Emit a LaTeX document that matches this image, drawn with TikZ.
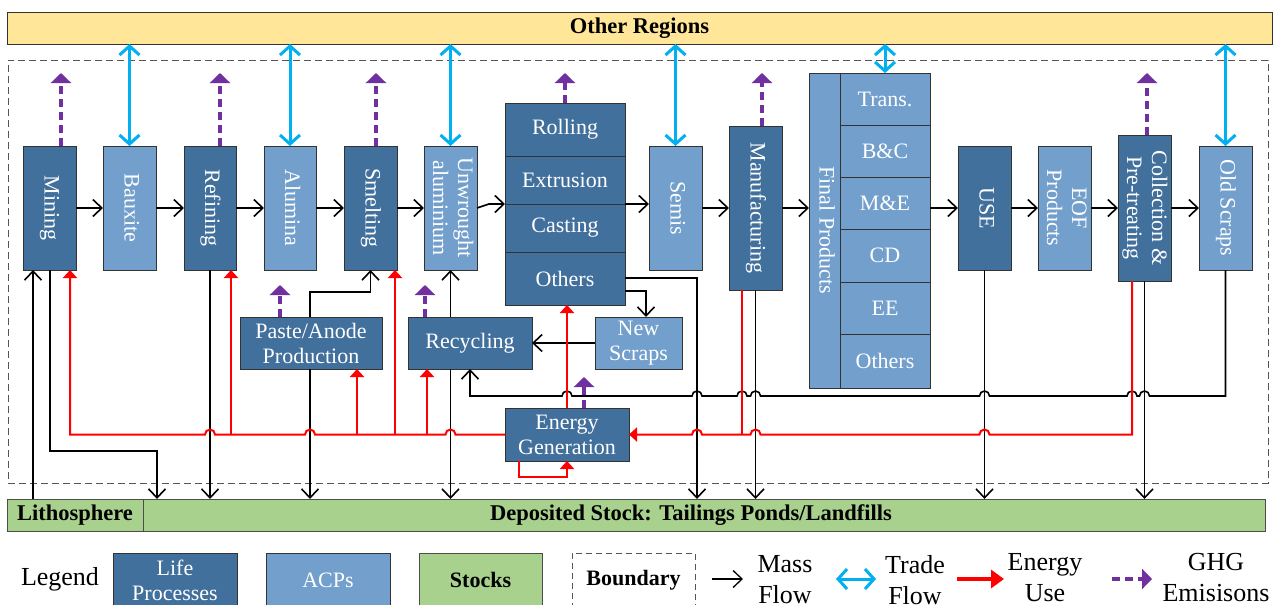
\documentclass[tikz,border=0pt]{standalone}
\usepackage{fontspec}
\setmainfont{Liberation Serif}
\usepackage{graphicx}
\usetikzlibrary{arrows.meta}
\definecolor{cLP}{HTML}{42709C}
\definecolor{cACP}{HTML}{729FCC}
\definecolor{cStk}{HTML}{A9D18E}
\definecolor{cOreg}{HTML}{FFE699}
\definecolor{cTrade}{HTML}{00B0F0}
\definecolor{cGhg}{HTML}{7030A0}
\definecolor{cBnd}{HTML}{555555}
\newcommand\myfs[2]{\fontsize{#1}{#2}\selectfont}
\newcommand\vtxt[1]{\rotatebox{-90}{\begin{tabular}{@{}c@{}}#1\end{tabular}}}
\begin{document}
\begin{tikzpicture}[x=1pt,y=-1pt,
  bx/.style={draw=black!80,line width=0.8pt,inner sep=0pt,outer sep=0pt,text=white,font=\myfs{22}{25},align=center},
  lpbox/.style={bx,fill=cLP},
  acpbox/.style={bx,fill=cACP},
  stkbox/.style={bx,fill=cStk,draw=black!70,text=black,font=\myfs{22.5}{25}\bfseries},
  sz/.style 2 args={minimum width=#1pt,minimum height=#2pt},
  mass/.style={draw=black,line width=1.6pt,-{Straight Barb[length=9pt,width=17pt]}},
  trade/.style={draw=cTrade,line width=3pt,{Straight Barb[length=9pt,width=20pt]}-{Straight Barb[length=9pt,width=20pt]}},
  ghg/.style={draw=cGhg,line width=3.5pt,dash pattern=on 8pt off 5pt,-{Triangle[length=10pt,width=20pt]}},
  energy/.style={draw=red,line width=2pt,-{Triangle[length=8pt,width=14pt]}},
  energyline/.style={draw=red,line width=2pt},
  lgtext/.style={font=\myfs{26}{31},align=center,inner sep=0pt}
]
\useasboundingbox (0,0) rectangle (1285,605);
\clip (0,0) rectangle (1285,605);

% boundary and bands
\node[draw=cBnd,dash pattern=on 7pt off 4pt,line width=1pt,inner sep=0pt,outer sep=0pt,sz={1260}{423}] (boundary) at (638,271.5) {};
\node[bx,fill=cOreg,text=black,font=\myfs{22.5}{25}\bfseries,sz={1265}{32}] (oreg) at (639.5,28) {Other Regions};
\node[stkbox,sz={1122}{32},label={[font=\myfs{22.5}{25}\bfseries,xshift=-13pt]center:Deposited Stock: Tailings Ponds/Landfills}] (depo) at (704,515) {};
\node[stkbox,sz={136}{32}] (litho) at (75,515) {Lithosphere};

% main row
\node[lpbox,sz={53}{124}] (mining) at (49.5,208) {\vtxt{Mining}};
\node[acpbox,sz={53}{124}] (bauxite) at (129.5,208) {\vtxt{Bauxite}};
\node[lpbox,sz={52}{124}] (refining) at (210,208) {\vtxt{Refining}};
\node[acpbox,sz={52}{124}] (alumina) at (290,208) {\vtxt{Alumina}};
\node[lpbox,sz={53}{124}] (smelting) at (370.5,208) {\vtxt{Smelting}};
\node[acpbox,sz={53}{124}] (unwrought) at (450.5,208) {\vtxt{Unwrought\\aluminium}};

\node[lpbox,sz={120}{53}] (rolling) at (565,129.5) {Rolling};
\node[lpbox,sz={120}{48}] (extrusion) at (565,180) {Extrusion};
\node[lpbox,sz={120}{48}] (casting) at (565,228) {Casting};
\node[lpbox,sz={120}{53}] (others) at (565,278.5) {Others};

\node[acpbox,sz={53}{124}] (semis) at (675.5,208) {\vtxt{Semis}};
\node[lpbox,sz={53}{164}] (manuf) at (755.5,208) {\vtxt{Manufacturing}};
\node[acpbox,sz={31}{315}] (fplabel) at (824.5,230.5) {\vtxt{Final Products}};
\node[acpbox,sz={90}{52}] (trans) at (885,99) {Trans.};
\node[acpbox,sz={90}{52}] (bc) at (885,151) {B\&C};
\node[acpbox,sz={90}{52}] (me) at (885,203) {M\&E};
\node[acpbox,sz={90}{53}] (cd) at (885,255.5) {CD};
\node[acpbox,sz={90}{52}] (ee) at (885,308) {EE};
\node[acpbox,sz={90}{54}] (fpothers) at (885,361) {Others};

\node[lpbox,sz={53}{124}] (use) at (984.5,208) {\vtxt{USE}};
\node[acpbox,sz={53}{124}] (eof) at (1064.5,208) {\vtxt{EOF\\Products}};
\node[lpbox,sz={53}{146}] (collect) at (1144.5,208) {\vtxt{Collection \&\\Pre-treating}};
\node[acpbox,sz={53}{124}] (oldscr) at (1225.5,208) {\vtxt{Old Scraps}};

\node[lpbox,sz={142}{52}] (paste) at (311,343) {Paste/Anode\\Production};
\node[lpbox,sz={124}{52}] (recyc) at (470,343) {Recycling};
\node[acpbox,sz={87}{52}] (newscr) at (638.5,343) {New\\Scraps};
\node[lpbox,sz={124}{53}] (energy) at (567,434.5) {Energy\\Generation};

% trade flows
\foreach \n in {bauxite,alumina,unwrought,semis,trans,oldscr}
  \draw[trade] (oreg.south -| \n.north) -- (\n.north);

% GHG emissions
\coordinate (gMin) at (61,73);
\coordinate (gRef) at (220,73);
\coordinate (gSme) at (376,73);
\coordinate (gRol) at (565,73);
\coordinate (gMan) at (762,73);
\coordinate (gCol) at (1147,73);
\coordinate (gPas) at (280,285);
\coordinate (gRec) at (425,285);
\coordinate (gEne) at (584,377);
\draw[ghg] (mining.north -| gMin) -- (gMin);
\draw[ghg] (refining.north -| gRef) -- (gRef);
\draw[ghg] (smelting.north -| gSme) -- (gSme);
\draw[ghg] (rolling.north -| gRol) -- (gRol);
\draw[ghg] (manuf.north -| gMan) -- (gMan);
\draw[ghg] (collect.north -| gCol) -- (gCol);
\draw[ghg] (paste.north -| gPas) -- (gPas);
\draw[ghg] (recyc.north -| gRec) -- (gRec);
\draw[ghg] (energy.north -| gEne) -- (gEne);

% mass flows
\draw[mass] (litho.north -| 33,0) -- (mining.south -| 33,0);
\draw[mass] (mining.south -| 50,0) |- (157,451) -- (depo.north -| 157,0);
\draw[mass] (mining.east) -- (bauxite.west);
\draw[mass] (bauxite.east) -- (refining.west);
\draw[mass] (refining.east) -- (alumina.west);
\draw[mass] (alumina.east) -- (smelting.west);
\draw[mass] (smelting.east) -- (unwrought.west);
\draw[mass] (unwrought.east) -- ++(12,-4) -- (casting.north west);
\draw[mass] (casting.north east) -- (semis.west |- casting.north east);
\draw[mass] (semis.east) -- (manuf.west);
\draw[mass] (manuf.east) -- (fplabel.west |- manuf.east);
\draw[mass] (me.east |- use.west) -- (use.west);
\draw[mass] (use.east) -- (eof.west);
\draw[mass] (eof.east) -- (collect.west);
\draw[mass] (collect.east) -- (oldscr.west);
\draw[mass] (refining.south) -- (depo.north -| refining.south);
\draw[mass] (paste.north -| 310,0) |- ([yshift=-22pt]smelting.south) -- (smelting.south);
\draw[mass] (paste.south -| 310,0) -- (depo.north -| 310,0);
\draw[mass] (recyc.north -| unwrought.south) -- (unwrought.south);
\draw[mass] (recyc.south -| unwrought.south) -- (depo.north -| unwrought.south);
\draw[mass] ([yshift=-12.5pt]others.east) -| (newscr.north -| 646,0);
\draw[mass] ([yshift=0.5pt]others.east) -| (depo.north -| 697,0);
\draw[mass] (newscr.west) -- (recyc.east);
\draw[mass] (manuf.south) -- (depo.north -| manuf.south);
\draw[mass] (use.south) -- (depo.north -| use.south);
\draw[mass] (collect.south) -- (depo.north -| collect.south);
\draw[mass] (oldscr.south) |- (1149.5,396)
   arc[start angle=0,end angle=-180,radius=5] -- (1137,396)
   arc[start angle=0,end angle=-180,radius=5] -- (989.5,396)
   arc[start angle=0,end angle=-180,radius=5] -- (760.5,396)
   arc[start angle=0,end angle=-180,radius=5] -- (747,396)
   arc[start angle=0,end angle=-180,radius=5] -- (702,396)
   arc[start angle=0,end angle=-180,radius=5] -- (572,396)
   arc[start angle=0,end angle=-180,radius=5] -| (recyc.south);

% energy use
\draw[energy] (energy.west) -- (455.5,434.5)
   arc[start angle=0,end angle=-180,radius=5] -- (315,434.5)
   arc[start angle=0,end angle=-180,radius=5] -- (215,434.5)
   arc[start angle=0,end angle=-180,radius=5] -| (mining.south -| 70,0);
\draw[energy] (energy.west -| 231,0) -- (refining.south -| 231,0);
\draw[energy] (energy.west -| 357,0) -- (paste.south -| 357,0);
\draw[energy] (energy.west -| 395,0) -- (smelting.south -| 395,0);
\draw[energy] (energy.west -| 427,0) -- (recyc.south -| 427,0);
\draw[energy] (energy.north) -- (others.south -| energy.north);
\draw[energy] ([xshift=-48pt]energy.south) -- ++(0,16) -| (energy.south);
\draw[energy] (collect.south -| 1132,0) |- (989.5,434.5)
   arc[start angle=0,end angle=-180,radius=5] -- (760.5,434.5)
   arc[start angle=0,end angle=-180,radius=5] -- (702,434.5)
   arc[start angle=0,end angle=-180,radius=5] -- (energy.east);
\draw[energyline] (manuf.south -| 742,0) -- (energy.east -| 742,0);

% legend
\node[lgtext] (legtitle) at (60,579) {Legend};
\node[lpbox,sz={124}{54}] (legLP) at (175,580) {Life\\Processes};
\node[acpbox,sz={124}{54}] (legACP) at (328,580) {ACPs};
\node[stkbox,sz={123}{54},font=\myfs{22}{25}\bfseries] (legStk) at (480.5,580) {Stocks};
\node[draw=cBnd,dash pattern=on 6pt off 4pt,line width=1pt,inner sep=0pt,sz={123}{54},font=\myfs{22}{25}\bfseries] (legBnd) at (633.5,580) {Boundary};
\coordinate (lm1) at (712,579); \coordinate (lm2) at (743,579);
\draw[mass,line width=1.3pt] (lm1) -- (lm2);
\node[lgtext] (legMass) at (785,580) {Mass\\Flow};
\coordinate (lt1) at (836,579); \coordinate (lt2) at (876,579);
\draw[trade] (lt1) -- (lt2);
\node[lgtext] (legTrade) at (915,580) {Trade\\Flow};
\coordinate (le1) at (957,579); \coordinate (le2) at (1004,579);
\draw[draw=red,line width=4pt,-{Triangle[length=13pt,width=18pt]}] (le1) -- (le2);
\node[lgtext] (legEnergy) at (1045,578) {Energy\\Use};
\coordinate (lg1) at (1112,579); \coordinate (lg2) at (1152,579);
\draw[ghg,line width=4pt] (lg1) -- (lg2);
\node[lgtext] (legGhg) at (1216,578) {GHG\\Emisisons};
\end{tikzpicture}
\end{document}
